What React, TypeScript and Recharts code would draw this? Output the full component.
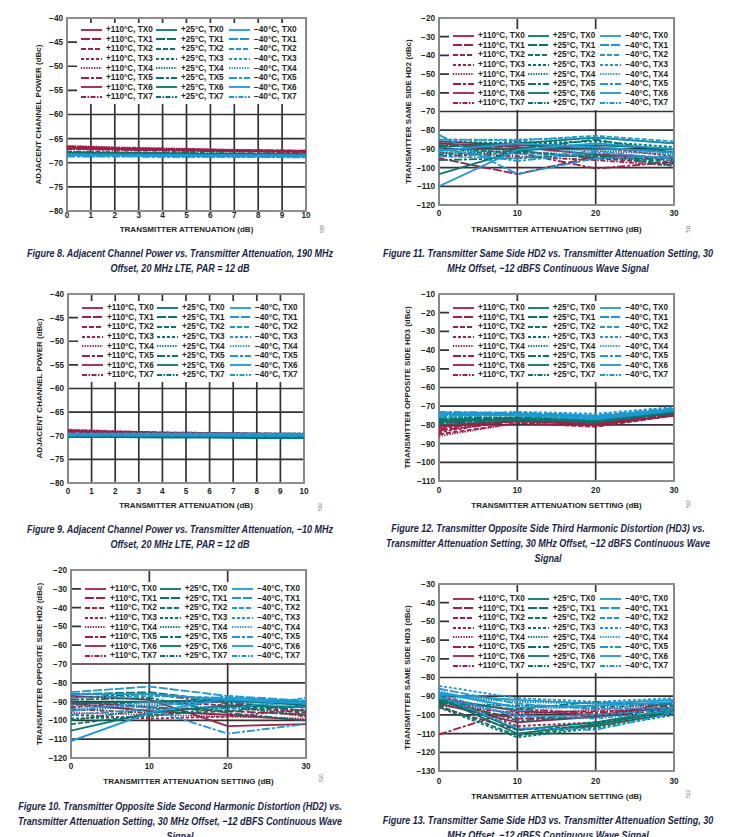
import React from "react";
import {
  LineChart,
  Line,
  XAxis,
  YAxis,
  CartesianGrid,
  Legend,
  ReferenceArea,
} from "recharts";

// series order inside every group: TX0 ... TX7
const TEMPS = ["+110°C", "+25°C", "\u221240°C"];
const TEMP_COLORS = ["#a51c44", "#00786a", "#1a9ad6"];
const TX_DASHES = [undefined, "9 2", "5 2", "3 2", "1.3 1.3", "8 2 3 2", undefined, "5 1.5 1.5 1.5"];
const TX_IDS = [0, 1, 2, 3, 4, 5, 6, 7];

// Figure 8: ACP, 190 MHz offset
const FIG8_X = [0, 2, 4, 6, 8, 10];
const FIG8_HOT = [
  [-66.8, -67.0, -67.2, -67.4, -67.5, -67.6],
  [-66.6, -66.9, -67.1, -67.3, -67.4, -67.5],
  [-67.0, -67.2, -67.4, -67.5, -67.6, -67.7],
  [-66.7, -66.9, -67.1, -67.3, -67.5, -67.6],
  [-66.5, -66.8, -67.0, -67.2, -67.4, -67.5],
  [-67.1, -67.3, -67.4, -67.6, -67.7, -67.8],
  [-66.9, -67.1, -67.3, -67.4, -67.6, -67.7],
  [-67.2, -67.3, -67.5, -67.6, -67.7, -67.8],
];
const FIG8_ROOM = [
  [-67.9, -68.0, -68.1, -68.2, -68.2, -68.3],
  [-68.0, -68.1, -68.1, -68.2, -68.3, -68.3],
  [-67.8, -67.9, -68.0, -68.1, -68.1, -68.2],
  [-68.1, -68.2, -68.2, -68.3, -68.3, -68.4],
  [-67.9, -68.0, -68.0, -68.1, -68.2, -68.2],
  [-68.2, -68.2, -68.3, -68.3, -68.4, -68.4],
  [-68.0, -68.0, -68.1, -68.2, -68.2, -68.3],
  [-67.7, -67.8, -67.9, -68.0, -68.1, -68.1],
];
const FIG8_COLD = [
  [-68.3, -68.4, -68.4, -68.5, -68.5, -68.6],
  [-68.5, -68.5, -68.6, -68.6, -68.7, -68.7],
  [-68.2, -68.3, -68.3, -68.4, -68.4, -68.5],
  [-68.6, -68.6, -68.7, -68.7, -68.8, -68.8],
  [-68.4, -68.4, -68.5, -68.5, -68.6, -68.6],
  [-68.7, -68.7, -68.8, -68.8, -68.8, -68.9],
  [-68.3, -68.3, -68.4, -68.4, -68.5, -68.5],
  [-68.5, -68.6, -68.6, -68.7, -68.7, -68.8],
];

// Figure 9: ACP, -10 MHz offset
const FIG9_X = [0, 2, 4, 6, 8, 10];
const FIG9_HOT = [
  [-68.9, -69.2, -69.4, -69.5, -69.6, -69.6],
  [-69.1, -69.3, -69.5, -69.6, -69.6, -69.7],
  [-68.8, -69.1, -69.3, -69.4, -69.5, -69.6],
  [-69.0, -69.3, -69.4, -69.5, -69.6, -69.7],
  [-68.7, -69.0, -69.3, -69.4, -69.5, -69.5],
  [-69.2, -69.4, -69.5, -69.6, -69.7, -69.7],
  [-69.0, -69.2, -69.4, -69.5, -69.6, -69.6],
  [-69.3, -69.5, -69.6, -69.7, -69.7, -69.8],
];
const FIG9_ROOM = [
  [-70.0, -70.0, -70.1, -70.1, -70.2, -70.2],
  [-69.8, -69.9, -70.0, -70.0, -70.1, -70.1],
  [-70.2, -70.2, -70.3, -70.3, -70.3, -70.4],
  [-69.7, -69.8, -69.9, -70.0, -70.0, -70.1],
  [-70.1, -70.1, -70.2, -70.2, -70.3, -70.3],
  [-69.9, -70.0, -70.0, -70.1, -70.1, -70.2],
  [-70.3, -70.3, -70.4, -70.4, -70.5, -70.5],
  [-69.8, -69.9, -69.9, -70.0, -70.1, -70.1],
];
const FIG9_COLD = [
  [-69.7, -69.7, -69.7, -69.8, -69.8, -69.8],
  [-69.9, -69.9, -69.9, -70.0, -70.0, -70.0],
  [-69.5, -69.5, -69.5, -69.5, -69.6, -69.6],
  [-69.6, -69.6, -69.6, -69.6, -69.5, -69.5],
  [-70.0, -70.0, -70.0, -70.1, -70.1, -70.1],
  [-69.8, -69.8, -69.8, -69.8, -69.9, -69.9],
  [-69.6, -69.7, -69.7, -69.7, -69.7, -69.8],
  [-69.9, -69.8, -69.8, -69.8, -69.8, -69.7],
];

// Figures 10-13: attenuation setting 0..30 dB
const SETTING_X = [0, 10, 20, 30];

const FIG11_HOT = [
  [-86, -88, -89, -92],
  [-95, -103.5, -94, -96],
  [-87, -91, -95, -98],
  [-89, -86, -89, -94],
  [-91, -88, -91, -93],
  [-94, -92, -100.5, -97],
  [-87, -89, -93, -95],
  [-92, -94, -96, -99],
];
const FIG11_ROOM = [
  [-103.5, -91, -88, -90],
  [-88, -90, -85, -92],
  [-90, -92, -94, -97],
  [-86, -87, -86, -89],
  [-92, -90, -90, -91],
  [-96, -95, -93, -99],
  [-89, -87, -84, -87],
  [-93, -91, -95, -95],
];
const FIG11_COLD = [
  [-110, -90.5, -87, -90],
  [-82.5, -103.5, -95, -94],
  [-85, -85.5, -83, -86],
  [-85, -85, -84, -87],
  [-92, -93, -90, -93],
  [-90, -96.5, -92, -95],
  [-91, -87, -89, -92],
  [-94, -95, -91, -96],
];

const FIG12_HOT = [
  [-81, -78, -80, -75],
  [-83, -78, -79, -74.5],
  [-85, -79, -81, -75],
  [-84, -77, -80, -74],
  [-86, -79, -80.5, -75],
  [-82, -77.5, -79, -74],
  [-80, -78, -78.5, -73.5],
  [-79, -77, -79.5, -74],
];
const FIG12_ROOM = [
  [-78, -77, -78, -73],
  [-77, -76.5, -77.5, -73],
  [-79, -77, -78, -73.5],
  [-76, -76, -77, -72],
  [-80, -77.5, -78, -74],
  [-78.5, -76.5, -77, -73],
  [-77.5, -77, -78.5, -73.5],
  [-76.5, -76, -76.5, -72.5],
];
const FIG12_COLD = [
  [-74, -74, -75.5, -72],
  [-75, -74.5, -76, -72],
  [-73.5, -73.5, -75, -71.5],
  [-75.5, -73, -74, -70.5],
  [-74.5, -74, -76.5, -71.5],
  [-73, -73.5, -75, -71],
  [-74, -75, -77, -72.5],
  [-76, -74.5, -75.5, -71.5],
];

const FIG10_HOT = [
  [-87, -89, -103, -102],
  [-90, -93, -95, -97],
  [-93, -90, -92, -96],
  [-97, -99, -98, -94],
  [-96, -97, -98, -99],
  [-88, -86, -91, -95],
  [-91, -95, -97, -100],
  [-94, -96, -92, -98],
];
const FIG10_ROOM = [
  [-105.5, -96, -92, -93],
  [-86, -85, -90, -95],
  [-102, -97, -95, -92],
  [-99, -98, -93, -90],
  [-95, -92, -90, -91],
  [-89, -88, -96, -100],
  [-91, -90, -89, -92],
  [-100, -94, -93, -97],
];
const FIG10_COLD = [
  [-111, -96, -88, -90],
  [-85, -82, -87, -89.5],
  [-88, -87, -88, -90],
  [-92, -93, -87, -91],
  [-94, -91, -90, -93],
  [-97, -94, -107, -102],
  [-86, -86, -89, -91],
  [-95, -90, -94, -88],
];

const FIG13_HOT = [
  [-91, -98, -100, -96],
  [-93, -102, -101, -97],
  [-96, -108, -106, -99],
  [-89, -106, -104, -98],
  [-92, -100, -97, -94],
  [-110.5, -97, -99, -95],
  [-94, -104, -101, -93],
  [-95, -99, -98, -97],
];
const FIG13_ROOM = [
  [-91, -110, -105, -98],
  [-93, -97, -93, -95],
  [-95, -111, -106, -99],
  [-96, -112, -107, -100],
  [-90, -93, -94, -92],
  [-92, -103, -101, -96],
  [-90, -108, -104, -97],
  [-94, -95, -96, -94],
];
const FIG13_COLD = [
  [-88, -96, -95, -93],
  [-86, -94, -97, -96],
  [-89, -101, -100, -97],
  [-84.5, -91, -93, -91],
  [-87, -98, -95, -94],
  [-90, -107, -108, -99],
  [-89, -92, -94, -92],
  [-91, -100, -102, -98],
];

const ATTEN_TICKS = [0, 1, 2, 3, 4, 5, 6, 7, 8, 9, 10];
const SETTING_TICKS = [0, 10, 20, 30];
const ACP_TICKS = [-80, -75, -70, -65, -60, -55, -50, -45, -40];
const TICKS_120_20 = [-120, -110, -100, -90, -80, -70, -60, -50, -40, -30, -20];
const TICKS_110_10 = [-110, -100, -90, -80, -70, -60, -50, -40, -30, -20, -10];
const TICKS_130_30 = [-130, -120, -110, -100, -90, -80, -70, -60, -50, -40, -30];

const FONT = "'Liberation Sans', Arial, sans-serif";
const INK = "#231f20";
const ML = 60; // y axis room left of the plot
const MT = 8;

const fmt = (v: number) => (v < 0 ? `\u2212${Math.abs(v)}` : `${v}`);

function buildRows(xs: number[], groups: number[][][]) {
  return xs.map((x, i) => {
    const row: Record<string, number> = { x };
    groups.forEach((g, t) => g.forEach((vals, k) => (row[`s${t}${k}`] = vals[i])));
    return row;
  });
}

function LegendBox() {
  return (
    <div style={{ display: "flex", background: "#fff", paddingTop: 2, paddingBottom: 2 }}>
      {TEMPS.map((temp, t) => (
        <div key={temp} style={{ width: t === 0 ? 75 : 73, paddingLeft: t === 0 ? 4 : 0 }}>
          {TX_IDS.map((k) => (
            <div key={k} style={{ height: 9.6, display: "flex", alignItems: "center" }}>
              <svg width={21} height={4} style={{ flex: "none" }}>
                <line
                  x1={0}
                  y1={2}
                  x2={21}
                  y2={2}
                  stroke={TEMP_COLORS[t]}
                  strokeWidth={1.8}
                  strokeDasharray={TX_DASHES[k]}
                />
              </svg>
              <span
                style={{
                  marginLeft: 4,
                  fontFamily: FONT,
                  fontWeight: 700,
                  fontSize: 8.2,
                  color: INK,
                  whiteSpace: "nowrap",
                  lineHeight: "9px",
                }}
              >
                {temp}, TX{k}
              </span>
            </div>
          ))}
        </div>
      ))}
    </div>
  );
}

type PanelProps = {
  plotLeft: number;
  plotTop: number;
  plotW: number;
  plotH: number;
  xs: number[];
  groups: number[][][];
  xTicks: number[];
  yTicks: number[];
  yLabel: string;
  xLabel: string;
  yLabelGap: number;
  tickGap: number;
  titleGap: number;
  legendTop: number;
};

function Panel(p: PanelProps) {
  const data = buildRows(p.xs, p.groups);
  const xDom: [number, number] = [p.xTicks[0], p.xTicks[p.xTicks.length - 1]];
  const yDom: [number, number] = [p.yTicks[0], p.yTicks[p.yTicks.length - 1]];
  const width = ML + p.plotW + 12;
  const height = MT + p.plotH + p.titleGap + 6;
  const tickStyle = { fontFamily: FONT, fontWeight: 700, fontSize: 8.2, fill: INK };
  const titleStyle = { fontFamily: FONT, fontWeight: 700, fontSize: 8, fill: INK };

  return (
    <div style={{ position: "absolute", left: p.plotLeft - ML, top: p.plotTop - MT }}>
      <LineChart width={width} height={height} data={data} margin={{ top: MT, right: 12, left: ML - 40, bottom: 6 }}>
        <CartesianGrid stroke="#333" strokeWidth={1.7} />
        <XAxis
          type="number"
          dataKey="x"
          domain={xDom}
          ticks={p.xTicks}
          allowDataOverflow
          height={p.titleGap}
          tickSize={0}
          tickMargin={p.tickGap}
          axisLine={false}
          tick={tickStyle}
          tickFormatter={fmt}
          label={(lp: any) => {
            const vb = lp.viewBox;
            return (
              <text x={vb.x + vb.width / 2} y={vb.y + p.titleGap} textAnchor="middle" style={titleStyle}>
                {p.xLabel}
              </text>
            );
          }}
        />
        <YAxis
          type="number"
          domain={yDom}
          ticks={p.yTicks}
          allowDataOverflow
          width={40}
          tickSize={0}
          tickMargin={4}
          axisLine={false}
          tick={tickStyle}
          tickFormatter={fmt}
          interval={0}
          label={(lp: any) => {
            const vb = lp.viewBox;
            const cx = vb.x + vb.width - p.yLabelGap;
            const cy = vb.y + vb.height / 2;
            return (
              <text
                x={cx}
                y={cy}
                dy="0.35em"
                textAnchor="middle"
                transform={`rotate(-90 ${cx} ${cy})`}
                style={titleStyle}
              >
                {p.yLabel}
              </text>
            );
          }}
        />
        <ReferenceArea x1={xDom[0]} x2={xDom[1]} y1={yDom[0]} y2={yDom[1]} fill="none" stroke="#8e8e8e" strokeWidth={1.8} />
        {p.groups.map((g, t) =>
          g.map((_, k) => (
            <Line
              key={`s${t}${k}`}
              dataKey={`s${t}${k}`}
              type="linear"
              stroke={TEMP_COLORS[t]}
              strokeWidth={1.8}
              strokeDasharray={TX_DASHES[k]}
              dot={false}
              isAnimationActive={false}
            />
          ))
        )}
        <Legend
          layout="vertical"
          align="center"
          verticalAlign="middle"
          content={() => <LegendBox />}
          wrapperStyle={{ left: ML + 10, top: MT + p.legendTop, width: p.plotW - 11, height: 81 }}
        />
      </LineChart>
    </div>
  );
}

function Caption({ lines, center, top }: { lines: string[]; center: number; top: number }) {
  return (
    <div
      style={{
        position: "absolute",
        left: center - 220,
        top: top - 7.5,
        width: 440,
        textAlign: "center",
        fontFamily: FONT,
        fontWeight: 700,
        fontStyle: "italic",
        fontSize: 11,
        lineHeight: "15px",
        color: "#1b1f45",
        transform: "scaleX(0.82)",
        transformOrigin: "center top",
        whiteSpace: "nowrap",
      }}
    >
      {lines.map((l) => (
        <div key={l}>{l}</div>
      ))}
    </div>
  );
}

function Tag({ text, x, y }: { text: string; x: number; y: number }) {
  return (
    <div
      style={{
        position: "absolute",
        left: x - 8,
        top: y - 3,
        width: 16,
        textAlign: "center",
        fontFamily: FONT,
        fontSize: 4.5,
        lineHeight: "6px",
        color: "#666",
        transform: "rotate(-90deg)",
      }}
    >
      {text}
    </div>
  );
}

const SETTING_TITLE = "TRANSMITTER ATTENUATION SETTING (dB)";
const ATTEN_TITLE = "TRANSMITTER ATTENUATION (dB)";

export default function App() {
  return (
    <div style={{ position: "absolute", left: 0, top: 0, width: 737, height: 837, overflow: "hidden", background: "#fff" }}>
      <Panel
        plotLeft={67} plotTop={18} plotW={239} plotH={193}
        xs={FIG8_X} groups={[FIG8_HOT, FIG8_ROOM, FIG8_COLD]}
        xTicks={ATTEN_TICKS} yTicks={ACP_TICKS}
        yLabel="ADJACENT CHANNEL POWER (dBc)" xLabel={ATTEN_TITLE}
        yLabelGap={29} tickGap={1} titleGap={21} legendTop={5}
      />
      <Tag text="508" x={323} y={229} />
      <Caption
        lines={["Figure 8. Adjacent Channel Power vs. Transmitter Attenuation, 190 MHz", "Offset, 20 MHz LTE, PAR = 12 dB"]}
        center={180} top={253}
      />

      <Panel
        plotLeft={439} plotTop={18} plotW={235} plotH={187}
        xs={SETTING_X} groups={[FIG11_HOT, FIG11_ROOM, FIG11_COLD]}
        xTicks={SETTING_TICKS} yTicks={TICKS_120_20}
        yLabel="TRANSMITTER SAME SIDE HD2 (dBc)" xLabel={SETTING_TITLE}
        yLabelGap={31} tickGap={5} titleGap={27} legendTop={11}
      />
      <Tag text="511" x={689} y={229} />
      <Caption
        lines={["Figure 11. Transmitter Same Side HD2 vs. Transmitter Attenuation Setting, 30", "MHz Offset, \u221212 dBFS Continuous Wave Signal"]}
        center={548} top={253}
      />

      <Panel
        plotLeft={68} plotTop={294} plotW={236} plotH={189}
        xs={FIG9_X} groups={[FIG9_HOT, FIG9_ROOM, FIG9_COLD]}
        xTicks={ATTEN_TICKS} yTicks={ACP_TICKS}
        yLabel="ADJACENT CHANNEL POWER (dBc)" xLabel={ATTEN_TITLE}
        yLabelGap={29} tickGap={5} titleGap={25} legendTop={7}
      />
      <Tag text="509" x={321} y={507} />
      <Caption
        lines={["Figure 9. Adjacent Channel Power vs. Transmitter Attenuation, \u221210 MHz", "Offset, 20 MHz LTE, PAR = 12 dB"]}
        center={180} top={529}
      />

      <Panel
        plotLeft={439} plotTop={294} plotW={235} plotH={187}
        xs={SETTING_X} groups={[FIG12_HOT, FIG12_ROOM, FIG12_COLD]}
        xTicks={SETTING_TICKS} yTicks={TICKS_110_10}
        yLabel="TRANSMITTER OPPOSITE SIDE HD3 (dBc)" xLabel={SETTING_TITLE}
        yLabelGap={32} tickGap={6} titleGap={27} legendTop={7}
      />
      <Tag text="512" x={689} y={504} />
      <Caption
        lines={[
          "Figure 12. Transmitter Opposite Side Third Harmonic Distortion (HD3) vs.",
          "Transmitter Attenuation Setting, 30 MHz Offset, \u221212 dBFS Continuous Wave",
          "Signal",
        ]}
        center={548} top={528}
      />

      <Panel
        plotLeft={71} plotTop={570} plotW={235} plotH={188}
        xs={SETTING_X} groups={[FIG10_HOT, FIG10_ROOM, FIG10_COLD]}
        xTicks={SETTING_TICKS} yTicks={TICKS_120_20}
        yLabel="TRANSMITTER OPPOSITE SIDE HD2 (dBc)" xLabel={SETTING_TITLE}
        yLabelGap={32} tickGap={5} titleGap={26} legendTop={12}
      />
      <Tag text="510" x={322} y={778} />
      <Caption
        lines={[
          "Figure 10. Transmitter Opposite Side Second Harmonic Distortion (HD2) vs.",
          "Transmitter Attenuation Setting, 30 MHz Offset, \u221212 dBFS Continuous Wave",
          "Signal",
        ]}
        center={180} top={806}
      />

      <Panel
        plotLeft={439} plotTop={584} plotW={235} plotH={187}
        xs={SETTING_X} groups={[FIG13_HOT, FIG13_ROOM, FIG13_COLD]}
        xTicks={SETTING_TICKS} yTicks={TICKS_130_30}
        yLabel="TRANSMITTER SAME SIDE HD3 (dBc)" xLabel={SETTING_TITLE}
        yLabelGap={32} tickGap={7} titleGap={28} legendTop={8}
      />
      <Tag text="513" x={689} y={794} />
      <Caption
        lines={["Figure 13. Transmitter Same Side HD3 vs. Transmitter Attenuation Setting, 30", "MHz Offset, \u221212 dBFS Continuous Wave Signal"]}
        center={548} top={820}
      />
    </div>
  );
}
